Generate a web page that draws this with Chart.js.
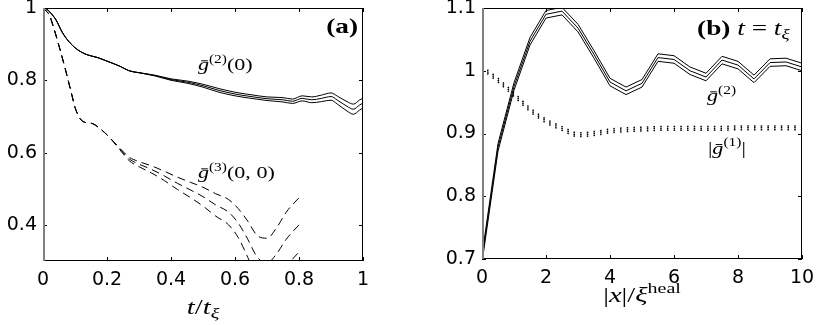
<!DOCTYPE html>
<html>
<head>
<meta charset="utf-8">
<script src="https://cdn.jsdelivr.net/npm/chart.js@4.4.1/dist/chart.umd.min.js"></script>
<style>
    html, body { margin: 0; padding: 0; background: #fff; }
    #wrap { position: relative; width: 817px; height: 325px; }
    canvas { position: absolute; top: 0; }
    #panelA { left: 0; }
    #panelB { left: 408px; }
</style>
</head>
<body>
<div id="wrap">
    <canvas id="panelA" width="408" height="325"></canvas>
    <canvas id="panelB" width="409" height="325"></canvas>
</div>
<script>
// ---- panel (a): local correlations vs time ----
const timeG2 = [0, 0.01, 0.02, 0.04, 0.06, 0.08, 0.1, 0.12, 0.14, 0.17, 0.2, 0.24, 0.27, 0.3, 0.35, 0.4, 0.45, 0.5, 0.55, 0.6, 0.65, 0.7, 0.75, 0.78, 0.81, 0.84, 0.87, 0.9, 0.92, 0.95, 0.97, 0.99, 1.0];
const g2Mean = [1.0, 0.998, 0.99, 0.968, 0.933, 0.908, 0.89, 0.878, 0.87, 0.863, 0.853, 0.839, 0.826, 0.821, 0.813, 0.802, 0.795, 0.785, 0.772, 0.762, 0.755, 0.749, 0.746, 0.742, 0.75, 0.746, 0.75, 0.755, 0.745, 0.728, 0.72, 0.732, 0.737];
const g2Err = [0, 0, 0, 0, 0, 0, 0, 0, 0, 0, 0, 0, 0, 0, 0.001, 0.002, 0.003, 0.004, 0.005, 0.005, 0.005, 0.005, 0.006, 0.006, 0.007, 0.008, 0.009, 0.01, 0.011, 0.013, 0.014, 0.014, 0.0135];

const timeG3 = [0, 0.02, 0.03, 0.05, 0.07, 0.09, 0.1, 0.115, 0.13, 0.155, 0.18, 0.21, 0.24, 0.27, 0.3, 0.34, 0.38, 0.42, 0.46, 0.5, 0.54, 0.58, 0.61, 0.64, 0.67, 0.7, 0.73, 0.76, 0.8];
const g3Mean = [1.0, 0.98, 0.955, 0.895, 0.83, 0.76, 0.725, 0.695, 0.684, 0.68, 0.665, 0.64, 0.61, 0.582, 0.568, 0.553, 0.535, 0.515, 0.497, 0.478, 0.455, 0.435, 0.405, 0.36, 0.31, 0.295, 0.32, 0.36, 0.4];
const g3Err = [0, 0, 0, 0, 0, 0, 0, 0, 0, 0, 0, 0, 0.002, 0.005, 0.007, 0.01, 0.013, 0.017, 0.021, 0.026, 0.031, 0.035, 0.04, 0.05, 0.06, 0.068, 0.072, 0.075, 0.075];

const ticksAX = [0, 0.2, 0.4, 0.6, 0.8, 1];
const ticksAY = [0.4, 0.6, 0.8, 1];

// ---- panel (b): spatial correlations at t = t_xi ----
const distX = [0, 0.5, 1, 1.5, 2, 2.5, 3, 3.5, 4, 4.5, 5, 5.5, 6, 6.5, 7, 7.5, 8, 8.5, 9, 9.5, 10];
const g2Dist = [0.70, 0.878, 0.975, 1.047, 1.09, 1.095, 1.068, 1.026, 0.982, 0.968, 0.98, 1.021, 1.018, 1.0, 0.99, 1.017, 1.009, 0.987, 1.013, 1.014, 1.006];
const g2DistErr = [0.006, 0.006, 0.006, 0.006, 0.006, 0.006, 0.006, 0.006, 0.006, 0.006, 0.006, 0.006, 0.006, 0.006, 0.006, 0.006, 0.006, 0.006, 0.006, 0.006, 0.006];
const g1Dist = [1.005, 0.985, 0.962, 0.938, 0.92, 0.908, 0.898, 0.9, 0.904, 0.906, 0.907, 0.908, 0.908, 0.908, 0.908, 0.908, 0.909, 0.909, 0.909, 0.909, 0.909];
const g1DistErr = [0.003, 0.003, 0.003, 0.003, 0.003, 0.003, 0.003, 0.003, 0.003, 0.003, 0.003, 0.003, 0.003, 0.003, 0.003, 0.003, 0.003, 0.003, 0.003, 0.003, 0.003];

const ticksBX = [0, 2, 4, 6, 8, 10];
const ticksBY = [0.7, 0.8, 0.9, 1, 1.1];

const SERIF = '"Liberation Serif", "DejaVu Serif", serif';
const TICK_FONT = { family: '"DejaVu Sans", sans-serif', size: 19 };

/**
 * Three lines per quantity: mean and mean +/- error
 */
function bandDatasets(xs, mean, err, style) {
    return [-1, 0, 1].map(k => ({
        data: xs.map((x, i) => ({ x: x, y: mean[i] + k * err[i] })),
        borderColor: '#000',
        borderWidth: 1,
        pointRadius: 0,
        fill: false,
        ...style
    }));
}

/**
 * Draw a small piece of math text: [text, kind] parts, kind = r | i | b | sup | sub | gbar
 */
function drawMath(ctx, x, y, parts, size, sx, dry) {
    ctx.save();
    ctx.translate(x, y);
    ctx.scale(sx, 1);
    ctx.fillStyle = '#000';
    ctx.textBaseline = 'alphabetic';
    ctx.textAlign = 'left';
    let cx = 0;
    parts.forEach(([txt, kind]) => {
        let fs = size, dy = 0, style = '';
        if (kind === 'i' || kind === 'gbar') style = 'italic ';
        if (kind === 'b') style = 'bold ';
        if (kind === 'sup') { fs = size * 0.7; dy = -size * 0.42; }
        if (kind === 'sub') { fs = size * 0.7; dy = size * 0.2; style = 'italic '; }
        ctx.font = style + fs + 'px ' + SERIF;
        const w = ctx.measureText(txt).width;
        if (!dry) {
            ctx.fillText(txt, cx, dy);
            if (kind === 'gbar') ctx.fillRect(cx + w * 0.3, -size * 0.56, w * 0.6, Math.max(1, size * 0.05));
        }
        cx += w;
    });
    ctx.restore();
    return cx * sx;
}

// box, inner ticks on all sides, annotations and axis title
const framePlugin = {
    id: 'frame',
    afterDatasetsDraw(chart, args, opts) {
        const { ctx, chartArea: a, scales: { x, y } } = chart;
        const tl = 4;
        ctx.save();
        ctx.strokeStyle = '#000';
        ctx.lineWidth = 1;
        ctx.beginPath();
        x.ticks.forEach(t => {
            const px = Math.round(x.getPixelForValue(t.value)) + 0.5;
            ctx.moveTo(px, a.top); ctx.lineTo(px, a.top + tl);
            ctx.moveTo(px, a.bottom); ctx.lineTo(px, a.bottom - tl);
        });
        y.ticks.forEach(t => {
            const py = Math.round(y.getPixelForValue(t.value)) + 0.5;
            ctx.moveTo(a.left, py); ctx.lineTo(a.left + tl, py);
            ctx.moveTo(a.right, py); ctx.lineTo(a.right - tl, py);
        });
        ctx.moveTo(a.left, a.top + 0.5); ctx.lineTo(a.right, a.top + 0.5);
        ctx.moveTo(a.right - 0.5, a.top); ctx.lineTo(a.right - 0.5, a.bottom);
        ctx.moveTo(a.left, a.bottom - 0.5); ctx.lineTo(a.right, a.bottom - 0.5);
        ctx.stroke();
        ctx.strokeStyle = '#808080';
        ctx.lineWidth = 2;
        ctx.beginPath();
        ctx.moveTo(a.left + 1, a.top); ctx.lineTo(a.left + 1, a.bottom);
        ctx.stroke();
        ctx.restore();

        (opts.labels || []).forEach(l => {
            drawMath(ctx, x.getPixelForValue(l.x), y.getPixelForValue(l.y), l.parts, l.size, 1.3);
        });
        if (opts.title) {
            const t = opts.title;
            const w = drawMath(ctx, 0, 0, t.parts, t.size, 1.3, true);
            drawMath(ctx, (a.left + a.right) / 2 - w / 2, t.baseline, t.parts, t.size, 1.3);
        }
    }
};

function axisOptions(min, max, tickValues, fitSize, horizontal) {
    return {
        type: 'linear',
        min: min,
        max: max,
        grid: { display: false, drawTicks: false },
        border: { display: false },
        ticks: {
            color: '#000',
            font: TICK_FONT,
            padding: horizontal ? 8 : 6,
            maxRotation: 0,
            autoSkip: false,
            callback: v => String(v)
        },
        afterBuildTicks: s => { s.ticks = tickValues.map(v => ({ value: v })); },
        afterFit: s => {
            if (horizontal) {
                s.height = fitSize;
                s.paddingLeft = 0; s.paddingRight = 0;
            } else {
                s.width = fitSize;
                s.paddingTop = 0; s.paddingBottom = 0;
            }
        }
    };
}

const gBar = [['g', 'gbar']];

new Chart(document.getElementById('panelA'), {
    type: 'line',
    data: {
        datasets: [
            ...bandDatasets(timeG2, g2Mean, g2Err, { cubicInterpolationMode: 'monotone' }),
            ...bandDatasets(timeG3, g3Mean, g3Err, { cubicInterpolationMode: 'monotone', borderDash: [8, 5] })
        ]
    },
    options: {
        responsive: false,
        animation: false,
        layout: { padding: { top: 8, left: 0, right: 45, bottom: 0 } },
        plugins: {
            legend: { display: false },
            tooltip: { enabled: false },
            frame: {
                labels: [
                    { x: 0.484, y: 0.829, size: 17, parts: [...gBar, ['(2)', 'sup'], ['(0)', 'r']] },
                    { x: 0.484, y: 0.53, size: 17, parts: [...gBar, ['(3)', 'sup'], ['(0, 0)', 'r']] },
                    { x: 0.885, y: 0.932, size: 21, parts: [['(a)', 'b']] }
                ],
                title: { baseline: 314, size: 22, parts: [['t', 'i'], ['/', 'r'], ['t', 'i'], ['ξ', 'sub']] }
            }
        },
        scales: {
            x: axisOptions(0, 1, ticksAX, 64, true),
            y: axisOptions(0.3, 1, ticksAY, 43, false)
        }
    },
    plugins: [framePlugin]
});

new Chart(document.getElementById('panelB'), {
    type: 'line',
    data: {
        datasets: [
            ...bandDatasets(distX, g2Dist, g2DistErr, {}),
            ...bandDatasets(distX, g1Dist, g1DistErr, { cubicInterpolationMode: 'monotone', borderWidth: 1.5, borderDash: [1.5, 5.2] })
        ]
    },
    options: {
        responsive: false,
        animation: false,
        layout: { padding: { top: 8, left: 0, right: 15, bottom: 0 } },
        plugins: {
            legend: { display: false },
            tooltip: { enabled: false },
            frame: {
                labels: [
                    { x: 6.72, y: 1.057, size: 21, parts: [['(b) ', 'b'], ['t', 'i'], [' = ', 'r'], ['t', 'i'], ['ξ', 'sub']] },
                    { x: 7.03, y: 0.952, size: 17, parts: [...gBar, ['(2)', 'sup']] },
                    { x: 7.06, y: 0.868, size: 17, parts: [['|', 'r'], ...gBar, ['(1)', 'sup'], ['|', 'r']] }
                ],
                title: { baseline: 302, size: 22, parts: [['|', 'r'], ['x', 'i'], ['|', 'r'], ['/', 'r'], ['ξ', 'i'], ['heal', 'sup']] }
            }
        },
        scales: {
            x: axisOptions(0, 10, ticksBX, 66, true),
            y: axisOptions(0.7, 1.1, ticksBY, 74, false)
        }
    },
    plugins: [framePlugin]
});
</script>
</body>
</html>
